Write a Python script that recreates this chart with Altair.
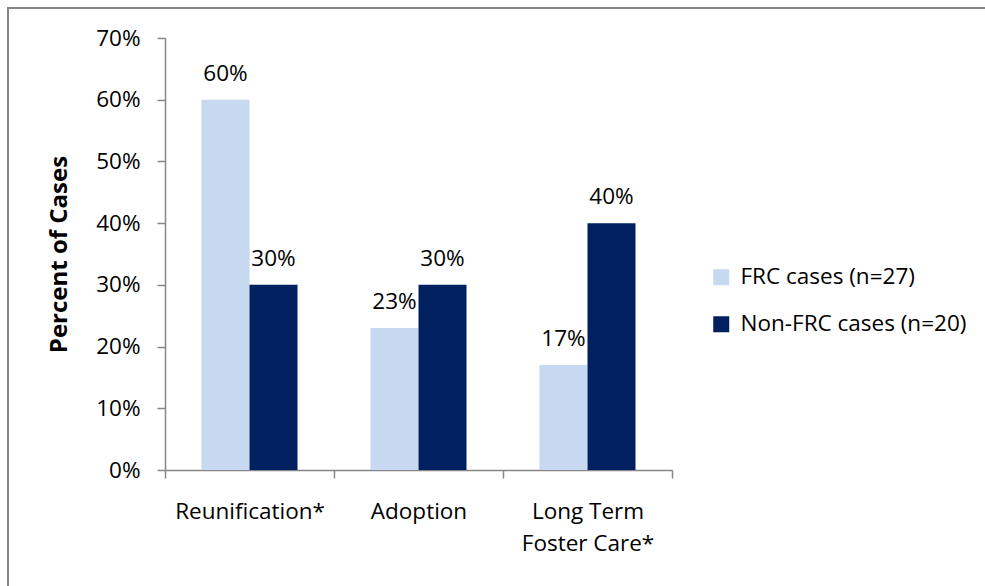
import altair as alt
import pandas as pd

# ---- data ----
categories = ["Reunification*", "Adoption", "Long Term Foster Care*"]
groups = ["FRC cases (n=27)", "Non-FRC cases (n=20)"]
frc_values = [0.60, 0.23, 0.17]
non_frc_values = [0.30, 0.30, 0.40]
y_ticks = [0.0, 0.1, 0.2, 0.3, 0.4, 0.5, 0.6, 0.7]
colors = ["#C6D9F1", "#002060"]

rows = []
for c, a, b in zip(categories, frc_values, non_frc_values):
    rows.append({"cat": c, "group": groups[0], "value": a})
    rows.append({"cat": c, "group": groups[1], "value": b})
df = pd.DataFrame(rows)

FONT = "Open Sans"
GRAY = "#868686"
FS = 22.5

W, H = 507, 432
PAD_L, PAD_T = 165, 38

x_enc = alt.X(
    "cat:N",
    sort=categories,
    title=None,
    scale=alt.Scale(paddingInner=0, paddingOuter=0),
    axis=alt.Axis(
        labelAngle=0,
        tickBand="extent",
        labelExpr="datum.label == 'Long Term Foster Care*' ? ['Long Term', 'Foster Care*'] : datum.label",
        domainColor=GRAY,
        tickColor=GRAY,
        domainWidth=1.5,
        tickWidth=1.5,
        tickSize=8,
        labelFont=FONT,
        labelFontSize=FS,
        labelColor="black",
        labelPadding=22,
        labelLineHeight=32,
        labelLimit=0,
    ),
)
xoff_enc = alt.XOffset("group:N", sort=groups, scale=alt.Scale(paddingOuter=0.76, paddingInner=0))
y_enc = alt.Y(
    "value:Q",
    scale=alt.Scale(domain=[0, 0.7], nice=False),
    axis=alt.Axis(
        values=y_ticks,
        format=".0%",
        grid=False,
        domainColor=GRAY,
        tickColor=GRAY,
        domainWidth=1.5,
        tickWidth=1.5,
        tickSize=8,
        labelFont=FONT,
        labelFontSize=FS,
        labelColor="black",
        labelPadding=17,
        title="Percent of Cases",
        titleFont=FONT,
        titleFontSize=24,
        titleFontWeight="bold",
        titleColor="black",
        titlePadding=24,
    ),
)

bars = alt.Chart(df).mark_bar().encode(
    x=x_enc,
    xOffset=xoff_enc,
    y=y_enc,
    color=alt.Color(
        "group:N",
        sort=groups,
        scale=alt.Scale(domain=groups, range=colors),
        legend=alt.Legend(
            title=None,
            orient="none",
            legendX=545,
            legendY=228,
            symbolType="square",
            symbolSize=256,
            symbolStrokeWidth=0,
            labelFont=FONT,
            labelFontSize=FS,
            labelColor="black",
            labelOffset=8,
            labelLimit=0,
            rowPadding=24,
        ),
    ),
)

labels = alt.Chart(df).mark_text(
    font=FONT, fontSize=FS, color="black", baseline="alphabetic", dy=-19
).encode(
    x=alt.X("cat:N", sort=categories),
    xOffset=alt.XOffset("group:N", sort=groups),
    y=alt.Y("value:Q"),
    text=alt.Text("value:Q", format=".0%"),
)

border = alt.Chart(pd.DataFrame({"k": [0]})).mark_rect(
    fill=None, stroke=GRAY, strokeWidth=2
).encode(
    x=alt.value(8 - PAD_L),
    x2=alt.value(1000 - PAD_L),
    y=alt.value(8 - PAD_T),
    y2=alt.value(600 - PAD_T),
)

chart = (
    alt.layer(border, bars, labels)
    .properties(
        width=W,
        height=H,
        autosize=alt.AutoSizeParams(type="none"),
        padding={"left": PAD_L, "top": PAD_T, "right": 985 - PAD_L - W, "bottom": 586 - PAD_T - H},
        background="white",
    )
    .configure_view(stroke=None)
)

chart.save("out.html", embed_options={"renderer": "svg", "actions": False})
